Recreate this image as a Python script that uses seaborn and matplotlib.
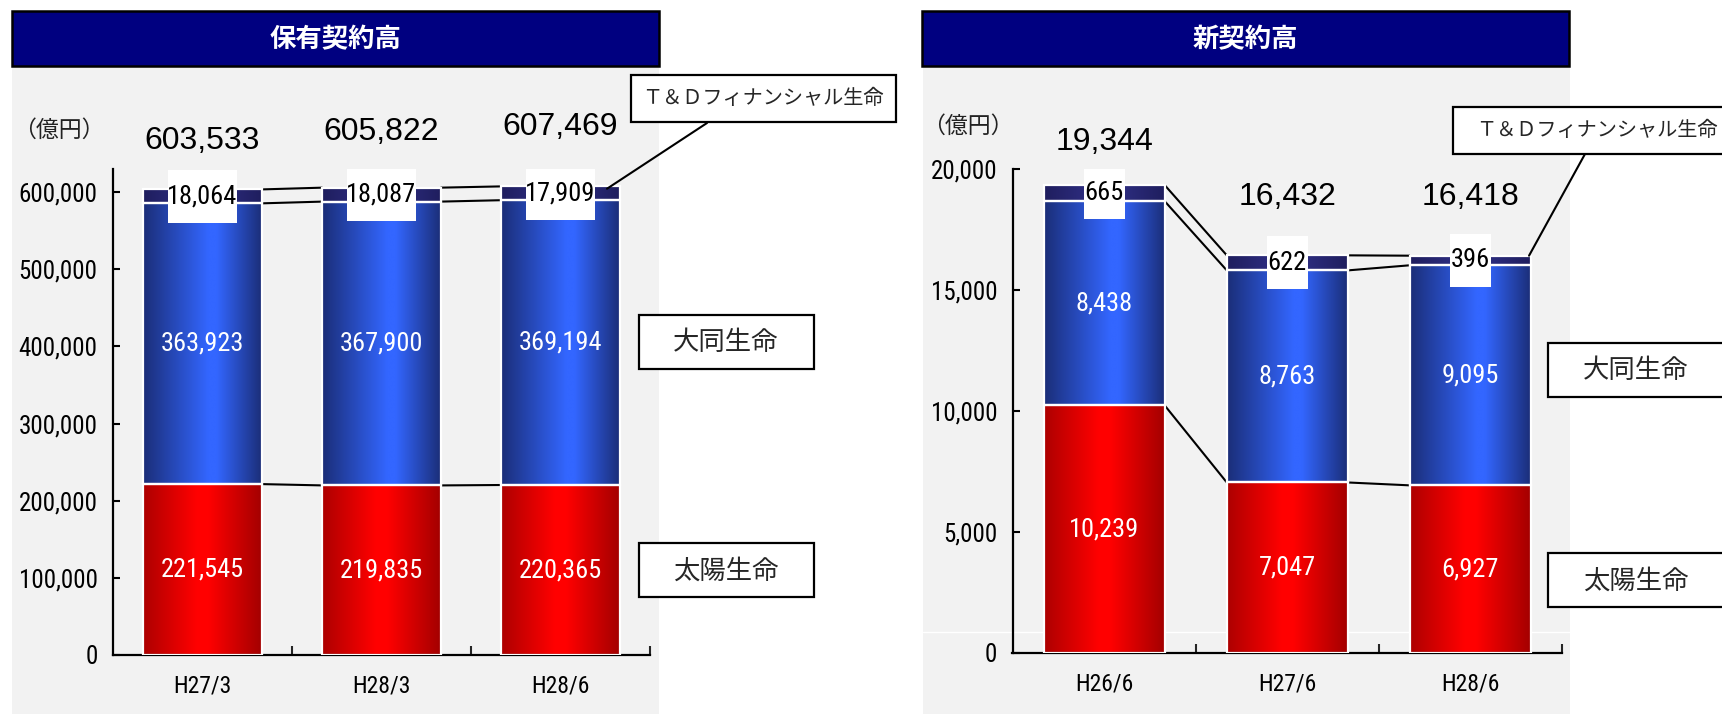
import numpy as np
import matplotlib
matplotlib.use("Agg")
import matplotlib.pyplot as plt
import seaborn as sns
from matplotlib.patches import Rectangle, ConnectionPatch
from matplotlib.colors import LinearSegmentedColormap

# ---------------- data ----------------
hold_periods = ["H27/3", "H28/3", "H28/6"]
hold_taiyo = [221545, 219835, 220365]
hold_daido = [363923, 367900, 369194]
hold_td = [18064, 18087, 17909]
hold_totals = ["603,533", "605,822", "607,469"]
hold_yticks = [0, 100000, 200000, 300000, 400000, 500000, 600000]

new_periods = ["H26/6", "H27/6", "H28/6"]
new_taiyo = [10239, 7047, 6927]
new_daido = [8438, 8763, 9095]
new_td = [665, 622, 396]
new_totals = ["19,344", "16,432", "16,418"]
new_yticks = [0, 5000, 10000, 15000, 20000]

titles = ["保有契約高", "新契約高"]
unit_label = "（億円）"
name_td = "Ｔ＆Ｄフィナンシャル生命"
name_daido = "大同生命"
name_taiyo = "太陽生命"

# ---------------- style ----------------
sns.set_theme(style="white")
NUM_FONT = ["Liberation Sans Narrow", "Arial Narrow", "Roboto Condensed",
            "Archivo Narrow", "PT Sans Narrow", "Open Sans Condensed",
            "DejaVu Sans"]
TOT_FONT = ["Liberation Sans", "Arimo", "DejaVu Sans"]
CJK_FONT = ["Noto Sans CJK JP", "DejaVu Sans"]
plt.rcParams["font.family"] = NUM_FONT

W, H = 1722, 715
fig = plt.figure(figsize=(W / 100, H / 100), dpi=100, facecolor="white")


def fx(x):
    return x / W


def fy(y):
    return 1 - y / H


def fig_rect(x0, y0, x1, y1, **kw):
    r = Rectangle((fx(x0), fy(y1)), (x1 - x0) / W, (y1 - y0) / H,
                  transform=fig.transFigure, **kw)
    fig.add_artist(r)
    return r


def fig_text(x, y, s, **kw):
    fig.text(fx(x), fy(y), s, transform=fig.transFigure, **kw)


red_cmap = LinearSegmentedColormap.from_list(
    "r", [(0, "#AD0000"), (0.45, "#FF0000"), (0.55, "#FF0000"), (1, "#A30000")])
blue_cmap = LinearSegmentedColormap.from_list(
    "b", [(0, "#1B2E78"), (0.55, "#3366FF"), (0.62, "#3366FF"), (1, "#1B2E78")])
td_cmap = LinearSegmentedColormap.from_list(
    "t", [(0, "#1F1E5E"), (0.5, "#32328C"), (1, "#1F1E5E")])

GRAY = "#F2F2F2"

# backgrounds
fig_rect(12, 66, 659, 714, facecolor=GRAY, edgecolor="none", zorder=-10)
fig_rect(923, 66, 1570, 714, facecolor=GRAY, edgecolor="none", zorder=-10)
fig.add_artist(plt.Line2D([fx(923), fx(1570)], [fy(632), fy(632)],
                          transform=fig.transFigure, color="white", lw=1, zorder=-9))

# title bars
for (x0, x1), t in zip([(12, 659), (922, 1569)], titles):
    fig_rect(x0, 11, x1, 66, facecolor="#000080", edgecolor="black", lw=1.8, zorder=5)
    fig_text((x0 + x1) / 2, 40, t, ha="center", va="center", color="white",
             fontsize=19, fontweight="bold", family=CJK_FONT, zorder=6)

BAR_W = 0.66


def draw_panel(ax, periods, taiyo, daido, td, totals, yticks, ytop,
               box_w, box_h, tot_offsets):
    taiyo = np.array(taiyo)
    daido = np.array(daido)
    td = np.array(td)
    bottoms = [np.zeros(len(taiyo)), taiyo, taiyo + daido]
    series = [taiyo, daido, td]
    cmaps = [red_cmap, blue_cmap, td_cmap]
    colors = ["#E00000", "#2A4FD0", "#2A2A80"]
    for vals, bot, c in zip(series, bottoms, colors):
        sns.barplot(x=periods, y=vals, bottom=bot, color=c, width=BAR_W,
                    saturation=1, edgecolor="white", linewidth=1.6,
                    errorbar=None, ax=ax, zorder=3)
    ax.set_xlim(-0.5, len(periods) - 0.5)
    ax.set_ylim(0, ytop)
    grad = np.linspace(0, 1, 256).reshape(1, -1)
    for cont, cmap in zip(ax.containers, cmaps):
        for p in cont.patches:
            x0, y0 = p.get_x(), p.get_y()
            x1, y1 = x0 + p.get_width(), y0 + p.get_height()
            im = ax.imshow(grad, cmap=cmap, extent=[x0, x1, y0, y1],
                           aspect="auto", interpolation="bilinear", zorder=2.5)
            im.set_clip_path(p)
            p.set_facecolor("none")
    ax.set_xlim(-0.5, len(periods) - 0.5)
    ax.set_ylim(0, ytop)
    ax.set_facecolor("none")

    # connector lines
    levels = [taiyo, taiyo + daido, taiyo + daido + td]
    for i in range(len(periods) - 1):
        for lev in levels:
            ax.plot([i + BAR_W / 2, i + 1 - BAR_W / 2], [lev[i], lev[i + 1]],
                    color="black", lw=1.5, zorder=2, solid_capstyle="butt")

    # segment labels
    for i in range(len(periods)):
        ax.text(i, taiyo[i] / 2, f"{taiyo[i]:,}", ha="center", va="center",
                color="white", fontsize=19, family=NUM_FONT, zorder=6)
        ax.text(i, taiyo[i] + daido[i] / 2, f"{daido[i]:,}", ha="center",
                va="center", color="white", fontsize=19, family=NUM_FONT, zorder=6)
        yc = taiyo[i] + daido[i] + td[i] / 2
        ax.add_patch(Rectangle((i - box_w / 2, yc - box_h / 2), box_w, box_h,
                               facecolor="white", edgecolor="none", zorder=5))
        ax.text(i, yc, f"{td[i]:,}", ha="center", va="center", color="black",
                fontsize=19, family=NUM_FONT, zorder=6)
        tot = taiyo[i] + daido[i] + td[i]
        ax.annotate(totals[i], xy=(i, tot), xytext=(0, tot_offsets[i]),
                    textcoords="offset points", ha="center", va="center",
                    fontsize=23, family=TOT_FONT, color="black", zorder=6)

    # axes styling
    for s in ["top", "right"]:
        ax.spines[s].set_visible(False)
    for s in ["left", "bottom"]:
        ax.spines[s].set_color("black")
        ax.spines[s].set_linewidth(1.6)
    ax.set_yticks(yticks)
    ax.set_yticklabels([f"{t:,}" for t in yticks], family=NUM_FONT)
    ax.tick_params(axis="y", direction="in", length=5, width=1.5, pad=11,
                   labelsize=18, colors="black", left=True)
    ax.set_xticks(range(len(periods)))
    ax.set_xticklabels(periods, family=NUM_FONT)
    ax.tick_params(axis="x", which="major", length=0, pad=14, labelsize=17,
                   colors="black")
    ax.set_xticks([i + 0.5 for i in range(len(periods))], minor=True)
    ax.tick_params(axis="x", which="minor", direction="in", length=6.5,
                   width=1.5, bottom=True)
    ax.set_xlabel("")
    ax.set_ylabel("")
    ax.grid(False)


ax1 = fig.add_axes([113 / W, 1 - 655 / H, 537 / W, (655 - 169) / H])
draw_panel(ax1, hold_periods, hold_taiyo, hold_daido, hold_td, hold_totals,
           hold_yticks, 630000, 0.385, 68700, [35, 40, 43])

ax2 = fig.add_axes([1012.5 / W, 1 - 653 / H, 549.5 / W, (653 - 169) / H])
draw_panel(ax2, new_periods, new_taiyo, new_daido, new_td, new_totals,
           new_yticks, 20000, 0.224, 2190, [31, 42, 42])

# unit labels
fig_text(59, 130, unit_label, ha="center", va="center", fontsize=16.5,
         family=CJK_FONT, color="#222222")
fig_text(968, 126, unit_label, ha="center", va="center", fontsize=16.5,
         family=CJK_FONT, color="#222222")

# legend boxes
BOX = dict(facecolor="white", edgecolor="black", lw=1.6, zorder=7)
fig_rect(631, 75, 896, 122, **BOX)
fig_text(763, 99, name_td, ha="center", va="center", fontsize=14.5,
         family=CJK_FONT, zorder=8)
fig_rect(639, 315, 814, 369, **BOX)
fig_text(726, 343, name_daido, ha="center", va="center", fontsize=19,
         family=CJK_FONT, zorder=8)
fig_rect(639, 543, 814, 597, **BOX)
fig_text(726, 571, name_taiyo, ha="center", va="center", fontsize=19,
         family=CJK_FONT, zorder=8)

fig_rect(1453, 107, 1740, 154, **BOX)
fig_text(1597, 131, name_td, ha="center", va="center", fontsize=14.5,
         family=CJK_FONT, zorder=8)
fig_rect(1548, 343, 1740, 397, **BOX)
fig_text(1636, 371, name_daido, ha="center", va="center", fontsize=19,
         family=CJK_FONT, zorder=8)
fig_rect(1548, 553, 1740, 607, **BOX)
fig_text(1636, 581, name_taiyo, ha="center", va="center", fontsize=19,
         family=CJK_FONT, zorder=8)

# leader lines
n1 = len(hold_periods) - 1
top1 = hold_taiyo[n1] + hold_daido[n1] + hold_td[n1]
fig.add_artist(ConnectionPatch(xyA=(fx(707), fy(123)), coordsA=fig.transFigure,
                               xyB=(n1 + 0.26, top1 - 3000), coordsB=ax1.transData,
                               color="black", lw=1.5, zorder=7))
n2 = len(new_periods) - 1
top2 = new_taiyo[n2] + new_daido[n2] + new_td[n2]
fig.add_artist(ConnectionPatch(xyA=(fx(1585), fy(154)), coordsA=fig.transFigure,
                               xyB=(n2 + 0.32, top2), coordsB=ax2.transData,
                               color="black", lw=1.5, zorder=7))

fig.savefig("out.png", dpi=100, facecolor="white")
